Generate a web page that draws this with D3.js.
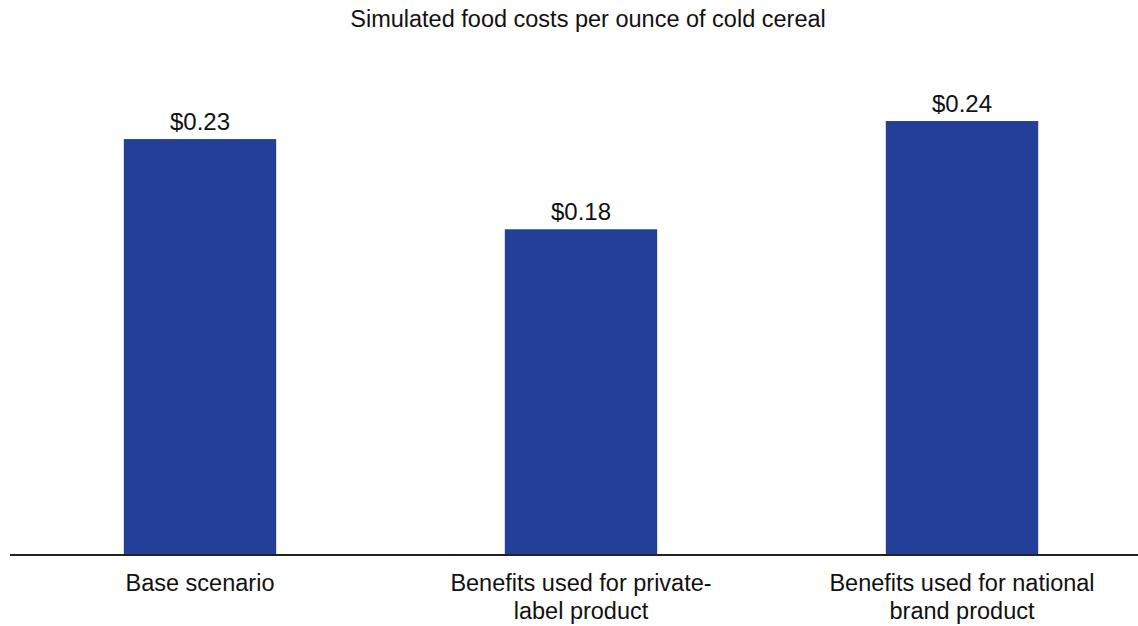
<!DOCTYPE html>
<html>
<head>
<meta charset="utf-8">
<script src="https://cdn.jsdelivr.net/npm/d3@7"></script>
<style>
  html, body { margin: 0; padding: 0; background: #fff; }
  svg { display: block; font-family: "Liberation Sans", Arial, Helvetica, sans-serif; }
</style>
</head>
<body>
<svg id="chart" width="1138" height="626"></svg>
<script>
// Cost per ounce of cold cereal under each scenario
const categories = [
  ["Base scenario"],
  ["Benefits used for private-", "label product"],
  ["Benefits used for national", "brand product"]
];
const values = [0.23, 0.18, 0.24];
const valueLabels = ["$0.23", "$0.18", "$0.24"];
const title = "Simulated food costs per ounce of cold cereal";

const width = 1138, height = 626;
const baseline = 554;
const svg = d3.select("#chart");

const keys = categories.map((c, i) => i);
const x = d3.scaleBand()
  .domain(keys)
  .range([9.5, 1152.5])
  .paddingInner(0.6)
  .paddingOuter(0.3);

const y = d3.scaleLinear()
  .domain([0, 0.25])
  .range([baseline, baseline - 0.25 * 1804]);

// title
svg.append("text")
  .attr("x", 588)
  .attr("y", 27)
  .attr("text-anchor", "middle")
  .attr("font-size", 23.5)
  .attr("fill", "#111")
  .text(title);

// bars
svg.selectAll("rect.bar")
  .data(values)
  .join("rect")
  .attr("class", "bar")
  .attr("x", (d, i) => x(i))
  .attr("width", x.bandwidth())
  .attr("y", d => y(d))
  .attr("height", d => y(0) - y(d))
  .attr("fill", "#233f97");

// value labels
svg.selectAll("text.val")
  .data(values)
  .join("text")
  .attr("class", "val")
  .attr("x", (d, i) => x(i) + x.bandwidth() / 2)
  .attr("y", d => y(d) - 9)
  .attr("text-anchor", "middle")
  .attr("font-size", 24)
  .attr("fill", "#111")
  .text((d, i) => valueLabels[i]);

// baseline axis
const axis = svg.append("g")
  .attr("transform", `translate(0,${baseline + 1})`)
  .call(d3.axisBottom(x).tickSize(0).tickFormat(() => ""));
axis.select(".domain").remove();
axis.append("line")
  .attr("x1", 10).attr("x2", width)
  .attr("y1", 0).attr("y2", 0)
  .attr("stroke", "#222")
  .attr("stroke-width", 2);

// category labels, wrapped onto two lines
const cat = svg.selectAll("text.cat")
  .data(categories)
  .join("text")
  .attr("class", "cat")
  .attr("x", (d, i) => x(i) + x.bandwidth() / 2)
  .attr("y", 591)
  .attr("text-anchor", "middle")
  .attr("font-size", 23.5)
  .attr("fill", "#111");
cat.selectAll("tspan")
  .data(d => d)
  .join("tspan")
  .attr("x", function () { return d3.select(this.parentNode).attr("x"); })
  .attr("dy", (d, j) => j === 0 ? 0 : 28)
  .text(d => d);
</script>
</body>
</html>
